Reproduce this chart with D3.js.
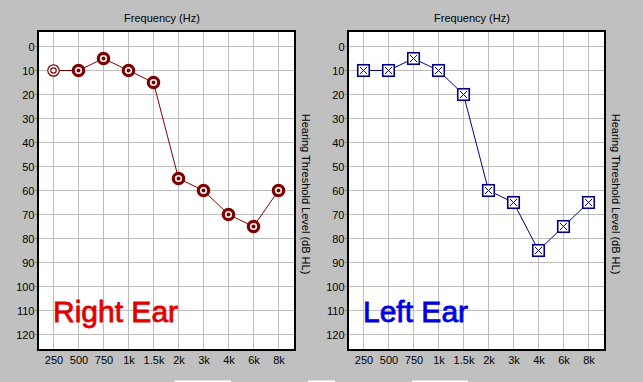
<!DOCTYPE html>
<html>
<head>
<meta charset="utf-8">
<script src="https://cdn.jsdelivr.net/npm/d3@7/dist/d3.min.js"></script>
<style>
  html, body { margin: 0; padding: 0; background: #c0c0c0; }
  svg { display: block; }
  text { font-family: "Liberation Sans", Arial, sans-serif; }
</style>
</head>
<body>
<svg id="chart" width="643" height="382"></svg>
<script>
// ---- data ----
const frequencies = ["250", "500", "750", "1k", "1.5k", "2k", "3k", "4k", "6k", "8k"];
const rightEar = [10, 10, 5, 10, 15, 55, 60, 70, 75, 60];
const leftEar = [10, 10, 5, 10, 20, 60, 65, 85, 75, 65];
// the 250 Hz right-ear marker is drawn open (unmasked style)
const rightEarOpen = [true, false, false, false, false, false, false, false, false, false];
const levelTicks = [0, 10, 20, 30, 40, 50, 60, 70, 80, 90, 100, 110, 120];
const panelTitles = ["Right Ear", "Left Ear"];
const xTitle = "Frequency (Hz)";
const yTitle = "Hearing Threshold Level (dB HL)";

const svg = d3.select("#chart");

// decorative white slivers at bottom edge
[[174.5, 56.5], [308, 27], [412, 56]].forEach(([x, w]) => {
  svg.append("rect").attr("x", x).attr("y", 380.5).attr("width", w).attr("height", 1.5).attr("fill", "#fff");
});

const panels = [
  { ox: 0, values: rightEar, color: "#800000", label: panelTitles[0], labelColor: "#e00000", kind: "circle" },
  { ox: 310, values: leftEar, color: "#000080", label: panelTitles[1], labelColor: "#0000e0", kind: "square" }
];

panels.forEach(p => {
  const g = svg.append("g").attr("transform", `translate(${p.ox},0)`);
  const box = { x: 38, y: 31, w: 257, h: 319 };

  const x = d3.scalePoint().domain(frequencies).range([53, 278]);
  const y = d3.scaleLinear().domain([0, 120]).range([46, 334]);

  g.append("rect").attr("x", box.x).attr("y", box.y).attr("width", box.w).attr("height", box.h)
    .attr("fill", "#fff");

  // grid
  g.selectAll(".hg").data(levelTicks).join("line")
    .attr("x1", box.x).attr("x2", box.x + box.w)
    .attr("y1", d => y(d) + 0.5).attr("y2", d => y(d) + 0.5)
    .attr("stroke", "#bdbdbd").attr("stroke-width", 1);
  g.selectAll(".vg").data(frequencies).join("line")
    .attr("x1", d => x(d) + 0.5).attr("x2", d => x(d) + 0.5)
    .attr("y1", box.y).attr("y2", box.y + box.h)
    .attr("stroke", "#bdbdbd").attr("stroke-width", 1);

  // y ticks
  g.selectAll(".yt").data(levelTicks).join("line")
    .attr("x1", 35).attr("x2", 38)
    .attr("y1", d => y(d) + 0.5).attr("y2", d => y(d) + 0.5)
    .attr("stroke", "#808080");

  // border
  g.append("rect").attr("x", box.x).attr("y", box.y).attr("width", box.w).attr("height", box.h)
    .attr("fill", "none").attr("stroke", "#000").attr("stroke-width", 2);

  // y tick labels
  g.selectAll(".yl").data(levelTicks).join("text")
    .attr("x", 34.5).attr("y", d => y(d) + 4.5)
    .attr("text-anchor", "end").attr("font-size", 11).attr("fill", "#000")
    .text(d => d);

  // x tick labels
  g.selectAll(".xl").data(frequencies).join("text")
    .attr("x", d => x(d) + 1).attr("y", 364)
    .attr("text-anchor", "middle").attr("font-size", 11).attr("fill", "#000")
    .text(d => d);

  // titles
  g.append("text").attr("x", 162).attr("y", 21.5).attr("text-anchor", "middle")
    .attr("font-size", 11).attr("fill", "#000").text(xTitle);
  g.append("text").attr("transform", "translate(301.5,194) rotate(90)")
    .attr("text-anchor", "middle").attr("font-size", 11).attr("fill", "#000").text(yTitle);

  // ear label
  g.append("text").attr("x", 53).attr("y", 322).attr("font-size", 30)
    .attr("fill", p.labelColor).attr("stroke", p.labelColor).attr("stroke-width", 0.8)
    .text(p.label);

  // line
  const pts = frequencies.map((f, i) => [x(f) + 0.5, y(p.values[i]) + 0.5]);
  g.append("path").attr("d", d3.line()(pts))
    .attr("fill", "none").attr("stroke", p.color).attr("stroke-width", 1);

  // markers
  const m = g.selectAll(".m").data(frequencies.map((f, i) => ({ f, v: p.values[i], i })))
    .join("g").attr("transform", d => `translate(${x(d.f) + 0.5},${y(d.v) + 0.5})`);

  if (p.kind === "circle") {
    m.each(function (d) {
      const s = d3.select(this);
      if (rightEarOpen[d.i]) {
        s.append("circle").attr("r", 5.7).attr("fill", "#fff").attr("stroke", p.color).attr("stroke-width", 1.2);
        s.append("circle").attr("r", 2.7).attr("fill", "none").attr("stroke", p.color).attr("stroke-width", 1.2);
      } else {
        s.append("circle").attr("r", 5.2).attr("fill", "#fff").attr("stroke", p.color).attr("stroke-width", 3.2);
        s.append("circle").attr("r", 2).attr("fill", p.color);
      }
    });
  } else {
    m.append("rect").attr("x", -5.75).attr("y", -5.75).attr("width", 11.5).attr("height", 11.5)
      .attr("fill", "#fff").attr("stroke", p.color).attr("stroke-width", 1.6);
    m.append("path").attr("d", "M-3.5,-3.5L3.5,3.5M3.5,-3.5L-3.5,3.5")
      .attr("stroke", p.color).attr("stroke-width", 1);
  }
});
</script>
</body>
</html>
